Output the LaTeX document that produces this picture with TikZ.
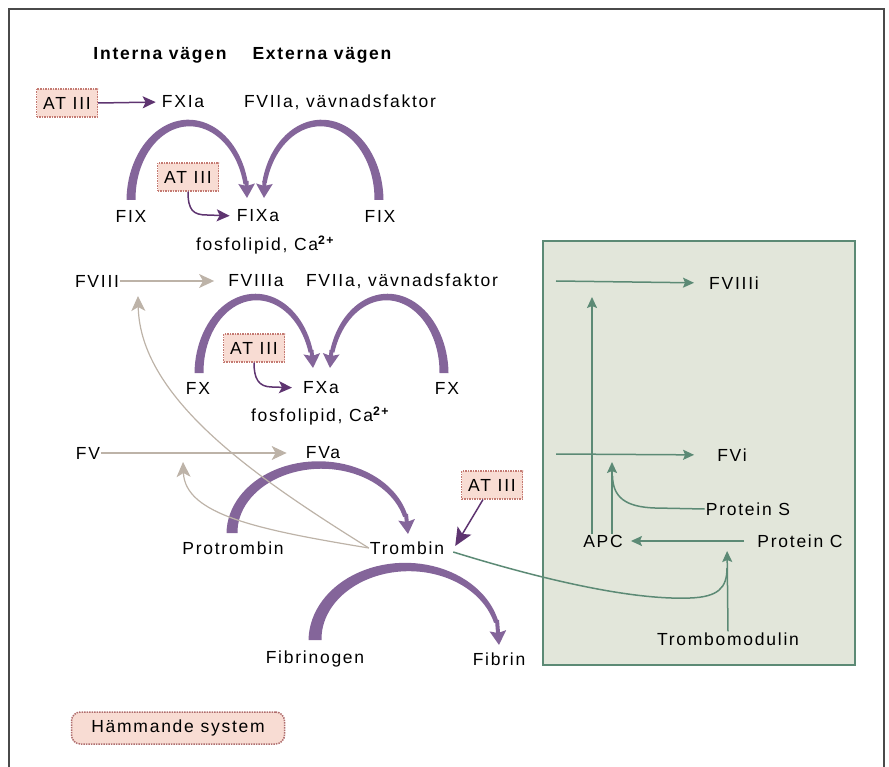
\documentclass[tikz,border=0pt]{standalone}
\usepackage{fontspec}
\setmainfont{Liberation Sans}[LetterSpace=10]
\usetikzlibrary{arrows.meta}
\definecolor{purp}{HTML}{84659A}
\definecolor{dpurp}{HTML}{5E3470}
\definecolor{gtan}{HTML}{BDB3A8}
\definecolor{grn}{HTML}{5C8A75}
\definecolor{boxfill}{HTML}{E2E6DA}
\definecolor{pinkfill}{HTML}{F8DCD3}
\definecolor{pinkedge}{HTML}{C47A72}
\definecolor{hamedge}{HTML}{B06E6E}
\definecolor{framecol}{HTML}{4A4A4A}
% tapered arc: cx cy rx ry t0 t1 w0 w1 colour
\newcommand\tarc[9]{%
  \fill[#9] plot[domain=#5:#6, samples=45, variable=\t]
    ({#1+(#3+(#7+(#8-#7)*(\t-#5)/(#6-#5))/2)*cos(\t)},{#2-(#4+(#7+(#8-#7)*(\t-#5)/(#6-#5))/2)*sin(\t)})
    -- plot[domain=#6:#5, samples=45, variable=\t]
    ({#1+(#3-(#7+(#8-#7)*(\t-#5)/(#6-#5))/2)*cos(\t)},{#2-(#4-(#7+(#8-#7)*(\t-#5)/(#6-#5))/2)*sin(\t)})
    -- cycle;}
\tikzset{
  lbl/.style={font=\fontsize{17.5}{20}\selectfont, inner sep=1pt},
  atbox/.style={lbl, draw=pinkedge, fill=pinkfill, line width=1.2pt,
    dash pattern=on 1.5pt off 1pt, minimum width=61pt, minimum height=28pt, inner sep=0pt},
  hambox/.style={lbl, draw=hamedge, fill=pinkfill, line width=1.5pt,
    dash pattern=on 1.5pt off 1pt, rounded corners=9pt,
    minimum width=213pt, minimum height=32pt, inner sep=0pt},
  arctip/.style={draw=purp, line width=4pt, -{Stealth[length=14pt, width=16pt, inset=2pt]}},
  darr/.style={draw=dpurp, line width=1.5pt, -{Stealth[length=13pt, width=12pt, inset=3pt]}},
  darrbig/.style={draw=dpurp, line width=1.5pt, -{Stealth[length=18pt, width=16pt, inset=4pt]}},
  garr/.style={draw=gtan, line width=1.2pt, -{Stealth[length=15pt, width=14pt, inset=4pt]}},
  garrow/.style={draw=grn, line width=1.5pt, -{Stealth[length=11pt, width=10pt, inset=2pt]}},
  gline/.style={draw=grn, line width=1.5pt},
}
\begin{document}
\begin{tikzpicture}[x=1pt, y=-1pt]
\useasboundingbox (0,0) rectangle (889,767);
% frame
\draw[framecol, line width=1.5pt] (9,767) -- (9,9) -- (884,9) -- (884,767);
% green box
\draw[grn, line width=1.8pt, fill=boxfill] (543,241) rectangle (855,665);

% headers
\node[lbl] (hint) at (160,55) {\bfseries Interna vägen};
\node[lbl] (hext) at (322,55) {\bfseries Externa vägen};

% row 1
\node[atbox] (at1) at (67,103) {AT III};
\node[lbl] (fxia) at (183,102) {FXIa};
\node[lbl] (fviia1) at (340,102) {FVIIa, vävnadsfaktor};
\node[atbox] (at2) at (188,177) {AT III};
\node[lbl] (fixL) at (131,216) {FIX};
\node[lbl] (fixa) at (258,216) {FIXa};
\node[lbl] (fixR) at (380,216) {FIX};
\node[lbl] (fos1) at (265,245) {fosfolipid, Ca\textsuperscript{\bfseries 2+}};

% row 2
\node[lbl] (fviii) at (97,281) {FVIII};
\node[lbl] (fviiia) at (256,281) {FVIIIa};
\node[lbl] (fviia2) at (402,281) {FVIIa, vävnadsfaktor};
\node[atbox] (at3) at (254,348) {AT III};
\node[lbl] (fxL) at (198,388) {FX};
\node[lbl] (fxa) at (321,388) {FXa};
\node[lbl] (fxR) at (447,388) {FX};
\node[lbl] (fos2) at (320,416) {fosfolipid, Ca\textsuperscript{\bfseries 2+}};

% row 3
\node[lbl] (fv) at (88,453) {FV};
\node[lbl] (fva) at (323,453) {FVa};
\node[lbl] (protr) at (233,548) {Protrombin};
\node[lbl] (tromb) at (407,548) {Trombin};
\node[atbox] (at4) at (492,485) {AT III};
\node[lbl] (fibrinogen) at (315,659) {Fibrinogen};
\node[lbl] (fibrin) at (499,659) {Fibrin};

% green box labels
\node[lbl] (fviiii) at (734,283) {FVIIIi};
\node[lbl] (fvi) at (732,455) {FVi};
\node[lbl] (ps) at (748,509) {Protein S};
\node[lbl] (apc) at (603,541) {APC};
\node[lbl] (pc) at (800,541) {Protein C};
\node[lbl] (tm) at (728,639) {Trombomodulin};

% legend
\node[hambox] (ham) at (178,728) {Hämmande system};

% tapered arcs
\tarc{189}{200}{58}{77}{180}{12}{9}{4.5}{purp}
\tarc{321}{200}{58}{77}{0}{167}{9}{4.5}{purp}
\draw[arctip] (246.5,181) -- (247,198);
\draw[arctip] (264.5,181) -- (264,198);

\tarc{256}{373}{57}{76}{180}{16}{9}{4.5}{purp}
\tarc{387}{373}{57}{76}{0}{164}{9}{4.5}{purp}
\draw[arctip] (311.5,350) -- (313,368);
\draw[arctip] (331.5,350) -- (330,368);

\tarc{320}{533}{88}{68}{180}{14}{11}{4.5}{purp}
\draw[arctip] (406,514) -- (408,534);

\tarc{407}{640}{92}{73}{180}{14}{13}{4.5}{purp}
\draw[arctip] (497,620) -- (499,645);

% AT III inhibitions
\draw[darr, shorten >=5pt] (at1.east) -- (fxia.west);
\draw[darr, shorten >=6pt] (at2.south) .. controls (188,210) and (193,215) .. (207,215) -- (fixa.west);
\draw[darr, shorten >=10pt] (at3.south) .. controls (254,378) and (258,387) .. (272,387) -- (fxa.west);
\draw[darrbig] ([xshift=-9pt]at4.south) -- ([xshift=10pt,yshift=2pt]tromb.east);

% grey activations
\coordinate (c8) at (138,296);
\coordinate (c5) at (183,462);
\draw[garr, shorten >=13pt] (fviii.east) -- (fviiia.west);
\draw[garr, shorten >=18pt] (fv.east) -- (fva.west);
\draw[garr] (tromb.west) .. controls (260,480) and (140,400) .. (c8);
\draw[garr] (tromb.west) .. controls (260,530) and (185,515) .. (c5);

% green system
\coordinate (g1) at (556,281);
\coordinate (g2) at (556,454);
\coordinate (v1) at (592,297);
\coordinate (v2) at (612,462);
\coordinate (pcl) at (727,541);
\draw[garrow, shorten >=14pt] (g1) -- (fviiii.west);
\draw[garrow, shorten >=22pt] (g2) -- (fvi.west);
\draw[garrow] ([xshift=-11pt]apc.north) -- (v1);
\draw[garrow] ([xshift=9pt]apc.north) -- (v2);
\draw[gline] (ps.west) -- (655,508) .. controls (625,507) and (613,497) .. (612.5,476);
\draw[garrow, shorten <=12pt, shorten >=7pt] (pc.west) -- (apc.east);
\draw[garrow, shorten >=10pt] (tm.north) -- (pcl);
\draw[gline] ([xshift=8pt,yshift=-4pt]tromb.east) .. controls (560,585) and (640,600) .. (690,598)
  .. controls (718,597) and (727,588) .. (727,568);
\end{tikzpicture}
\end{document}
